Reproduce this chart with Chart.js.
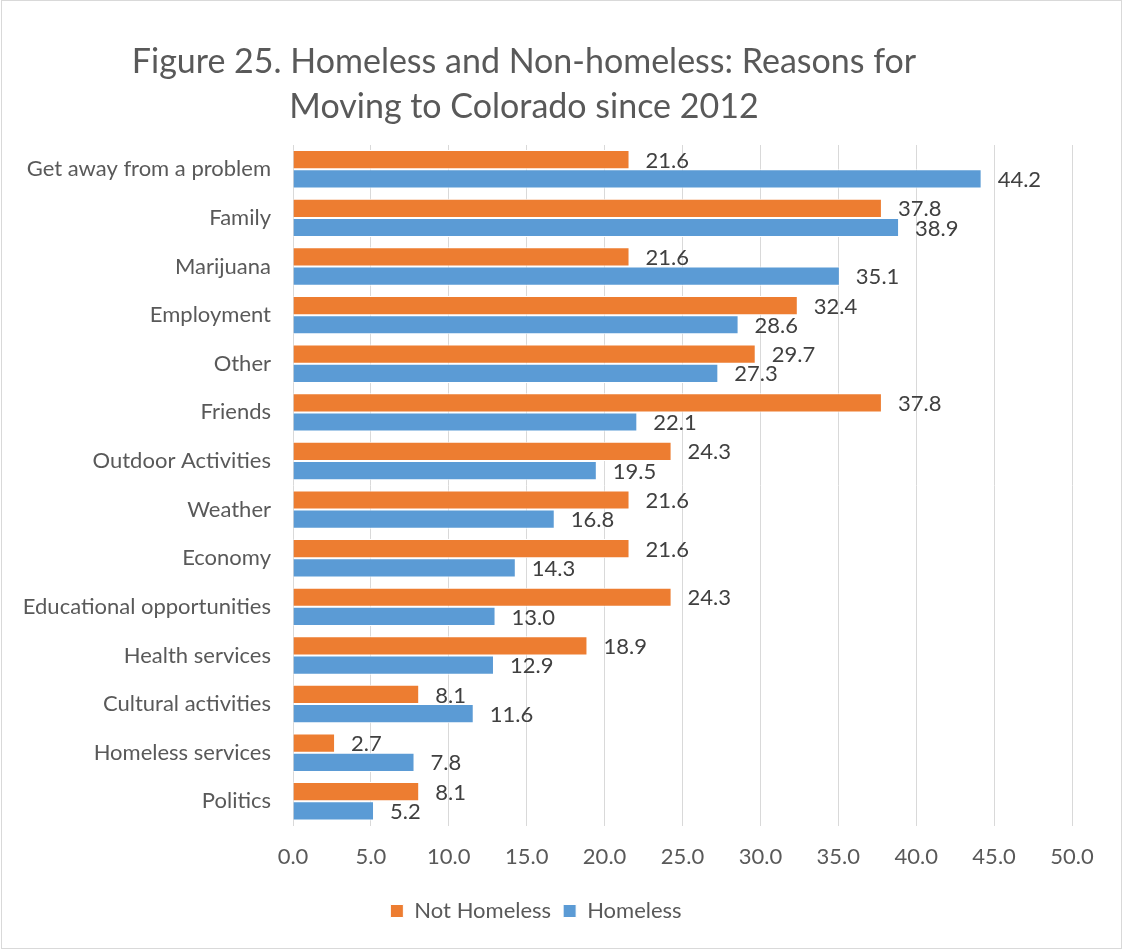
<!DOCTYPE html>
<html>
<head>
<meta charset="utf-8">
<script src="https://cdn.jsdelivr.net/npm/chart.js@4/dist/chart.umd.min.js"></script>
<style>
    html, body { margin: 0; padding: 0; background: #fff; }
    #wrap { position: relative; width: 1123px; height: 951px; }
</style>
</head>
<body>
<div id="wrap"><canvas id="reasons-chart"></canvas></div>
<script>
//categories, top to bottom
const REASONS = ['Get away from a problem', 'Family', 'Marijuana', 'Employment', 'Other', 'Friends',
    'Outdoor Activities', 'Weather', 'Economy', 'Educational opportunities', 'Health services',
    'Cultural activities', 'Homeless services', 'Politics'];

//percent of respondents
const NOT_HOMELESS = [21.6, 37.8, 21.6, 32.4, 29.7, 37.8, 24.3, 21.6, 21.6, 24.3, 18.9, 8.1, 2.7, 8.1];
const HOMELESS = [44.2, 38.9, 35.1, 28.6, 27.3, 22.1, 19.5, 16.8, 14.3, 13.0, 12.9, 11.6, 7.8, 5.2];

const SERIES_LABELS = ['Not Homeless', 'Homeless'];
const TITLE_LINES = ['Figure 25. Homeless and Non-homeless: Reasons for', 'Moving to Colorado since 2012'];

const COLORS = ['#ED7D31', '#5B9BD5'];
const FONT = 'Lato, "Open Sans", sans-serif';
const TEXT_COLOR = '#595959';

// title drawn by hand so it can sit left of the canvas centre
const titlePlugin = {
    id: 'figTitle',
    afterDraw(chart) {
        const ctx = chart.ctx;
        ctx.save();
        ctx.font = '34px ' + FONT;
        ctx.fillStyle = TEXT_COLOR;
        ctx.textAlign = 'center';
        ctx.textBaseline = 'middle';
        ctx.fillText(TITLE_LINES[0], 524, 62);
        ctx.fillText(TITLE_LINES[1], 524, 107);
        ctx.restore();
    }
};

// value labels at the end of each bar
const valueLabels = {
    id: 'valueLabels',
    afterDatasetsDraw(chart) {
        const ctx = chart.ctx;
        ctx.save();
        ctx.font = '22px ' + FONT;
        ctx.fillStyle = '#404040';
        ctx.textAlign = 'left';
        ctx.textBaseline = 'middle';
        chart.data.datasets.forEach((ds, i) => {
            chart.getDatasetMeta(i).data.forEach((bar, j) => {
                ctx.fillText(ds.data[j].toFixed(1), bar.x + 16, bar.y + 1);
            });
        });
        ctx.restore();
    }
};

// thin grey frame round the whole figure
const frame = {
    id: 'frame',
    afterDraw(chart) {
        const ctx = chart.ctx;
        ctx.save();
        ctx.strokeStyle = '#d9d9d9';
        ctx.lineWidth = 1;
        ctx.strokeRect(1.5, 0.5, 1120, 948);
        ctx.restore();
    }
};

function initDataset() {
    return {
        labels: REASONS,
        datasets: [
            {
                label: SERIES_LABELS[0],
                backgroundColor: COLORS[0],
                borderColor: '#ffffff',
                borderWidth: 1,
                data: NOT_HOMELESS,
            },
            {
                label: SERIES_LABELS[1],
                backgroundColor: COLORS[1],
                borderColor: '#ffffff',
                borderWidth: 1,
                data: HOMELESS,
            },
        ]
    };
}

function createReasonsChart() {
    new Chart(document.getElementById('reasons-chart'), {
        type: 'bar',
        data: initDataset(),
        plugins: [titlePlugin, valueLabels, frame],
        options: {
            indexAxis: 'y',
            responsive: true,
            maintainAspectRatio: false,
            animation: false,
            layout: {
                padding: { top: 145, right: 51, bottom: 19, left: 0 }
            },
            datasets: {
                bar: { categoryPercentage: 0.79, barPercentage: 1.0 }
            },
            scales: {
                x: {
                    min: 0,
                    max: 50,
                    ticks: {
                        stepSize: 5,
                        color: TEXT_COLOR,
                        font: { family: FONT, size: 22 },
                        padding: 18,
                        callback: v => v.toFixed(1)
                    },
                    grid: { color: '#d9d9d9', lineWidth: 1, drawTicks: false },
                    border: { display: false }
                },
                y: {
                    ticks: {
                        color: TEXT_COLOR,
                        font: { family: FONT, size: 22 },
                        padding: 22
                    },
                    grid: { display: false, drawTicks: false },
                    border: { display: false },
                    afterFit: scale => { scale.width = 293; }
                }
            },
            plugins: {
                legend: {
                    position: 'bottom',
                    labels: {
                        boxWidth: 13,
                        boxHeight: 13,
                        padding: 12,
                        color: TEXT_COLOR,
                        font: { family: FONT, size: 22 }
                    }
                },
                title: { display: false },
                tooltip: { enabled: false }
            }
        }
    });
}

createReasonsChart();
</script>
</body>
</html>
